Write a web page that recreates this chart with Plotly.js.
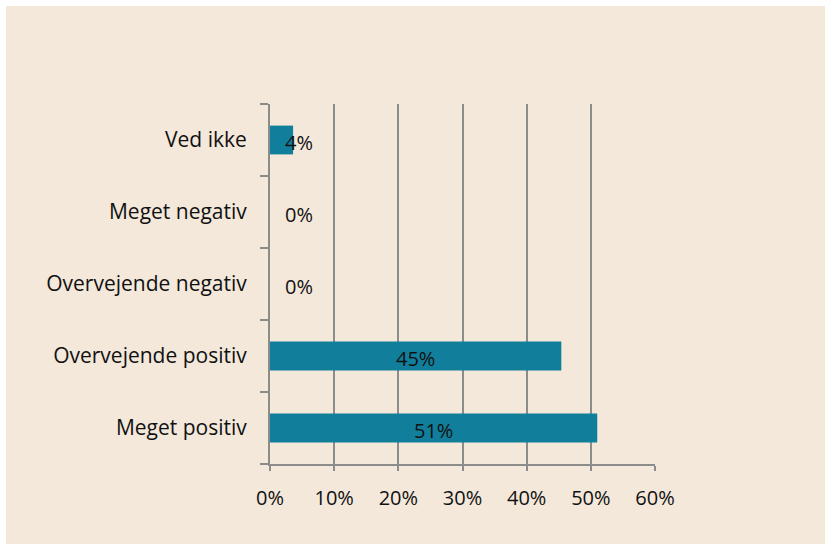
<!DOCTYPE html>
<html>
<head>
<meta charset="utf-8">
<script src="https://cdn.plot.ly/plotly-3.0.1.min.js"></script>
<style>
  html, body { margin: 0; padding: 0; background: #ffffff; }
  #chart { width: 825px; height: 544px; }
</style>
</head>
<body>
<div id="chart"></div>
<script>
// svar, nederst til øverst
let categories = ['Meget positiv', 'Overvejende positiv', 'Overvejende negativ', 'Meget negativ', 'Ved ikke'];
let values = [0.51, 0.454, 0, 0, 0.036];
let labels = ['51%', '45%', '0%', '0%', '4%'];

let bar_color = '#117f9b';
let beige = '#f4e8db';
let grid_color = '#8c8c8c';

let trace = {
  type: 'bar',
  orientation: 'h',
  x: values,
  y: categories,
  marker: { color: bar_color },
  width: 0.4,
  hoverinfo: 'skip'
};

// datalabels: midt i søjlen, små værdier lige til højre for aksen
let annotations = values.map((v, i) => {
  let small = v < 0.08;
  return {
    x: small ? 0 : v / 2,
    y: categories[i],
    xref: 'x', yref: 'y',
    text: labels[i],
    showarrow: false,
    xanchor: small ? 'left' : 'center',
    xshift: small ? 13 : 0,
    yshift: -2,
    font: { family: 'Open Sans, sans-serif', size: 20, color: '#111111' }
  };
});

let layout = {
  width: 825, height: 544,
  margin: { l: 270, r: 170, t: 104, b: 80, pad: 0 },
  paper_bgcolor: '#ffffff',
  plot_bgcolor: 'rgba(0,0,0,0)',
  showlegend: false,
  font: { family: 'Open Sans, sans-serif', size: 20, color: '#111111' },
  shapes: [{
    type: 'rect', xref: 'paper', yref: 'paper', layer: 'below',
    x0: -0.686, x1: 1.45, y0: -0.25, y1: 1.272,
    fillcolor: beige, line: { width: 0 }
  }],
  xaxis: {
    range: [0, 0.6],
    dtick: 0.1,
    tick0: 0,
    tickformat: '.0%',
    showgrid: true,
    gridcolor: grid_color,
    gridwidth: 2,
    zeroline: false,
    showline: true,
    linecolor: grid_color,
    linewidth: 2,
    ticks: 'outside',
    ticklen: 5,
    tickwidth: 2,
    tickcolor: grid_color,
    ticklabelstandoff: 10,
    tickfont: { size: 20, color: '#111111' },
    fixedrange: true
  },
  yaxis: {
    type: 'category',
    range: [-0.5, 4.5],
    tickson: 'boundaries',
    showgrid: false,
    zeroline: false,
    showline: true,
    linecolor: grid_color,
    linewidth: 2,
    ticks: 'outside',
    ticklen: 8,
    tickwidth: 2,
    tickcolor: grid_color,
    ticklabelstandoff: 17,
    tickfont: { size: 21, color: '#111111' },
    fixedrange: true
  },
  annotations: annotations
};

Plotly.newPlot('chart', [trace], layout, { displayModeBar: false, staticPlot: true });
</script>
</body>
</html>
